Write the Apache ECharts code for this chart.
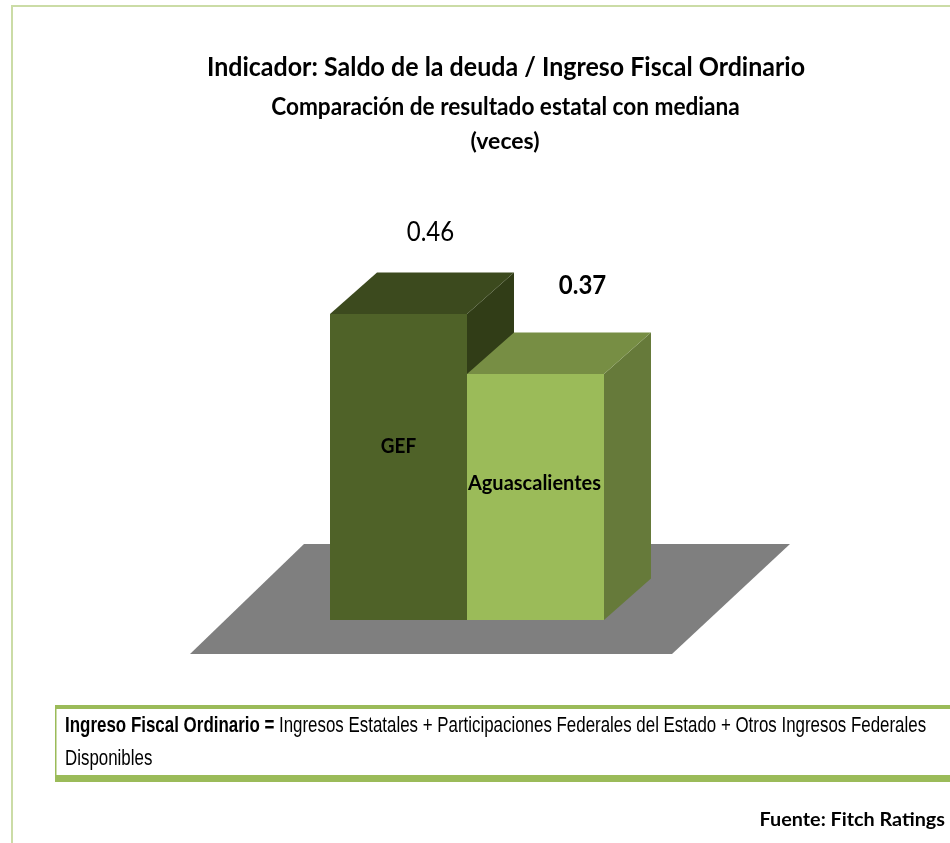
<!DOCTYPE html>
<html><head><meta charset="utf-8">
<style>html,body{margin:0;padding:0;background:#fff}#c{width:950px;height:843px}</style>
<script src="https://cdn.jsdelivr.net/npm/echarts@6/dist/echarts.min.js"></script>
</head><body><div id="c"></div>
<script>
const categories = ['GEF', 'Aguascalientes'];
const values = [0.46, 0.37];
const valueLabels = ['0.46', '0.37'];
const titleLines = ['Indicador: Saldo de la deuda / Ingreso Fiscal Ordinario', 'Comparación de resultado estatal con mediana', '(veces)'];
const noteBold = 'Ingreso Fiscal Ordinario = ';
const noteLine1 = 'Ingresos Estatales + Participaciones Federales del Estado + Otros Ingresos Federales';
const noteLine2 = 'Disponibles';
const source = 'Fuente: Fitch Ratings';

const faces = [
  {front:'#4f6228', top:'#3c4a1e', side:'#313d17'},
  {front:'#9bbb59', top:'#778e44', side:'#667a3a'}
];
const DX = 47, DY = -41.5;
const valueOffset = [[32,-82],[47,-89]];
const nameOffset = [[0,-21],[-1,-13]];
const valueWeight = ['normal','bold'];
const nameSize = [21,20];
const nameScale = [0.9,1];

function poly(pts, fill){return {type:'polygon',shape:{points:pts},style:{fill:fill},z2:1};}

const textFont = 'Lato, "Open Sans", sans-serif';
const sans = '"Liberation Sans", sans-serif';
function label(text,x,y,font,size,weight,sx,align){
  return {type:'text',x:x,y:y,scaleX:sx,silent:true,
    style:{text:text,x:0,y:0,align:align||'left',verticalAlign:'middle',fontFamily:font,fontWeight:weight,fontSize:size,fill:'#000'}};
}

const chart = echarts.init(document.getElementById('c'), null, {renderer:'canvas'});
chart.setOption({
  animation:false,
  backgroundColor:'#fff',
  grid:{left:330,width:274,top:287.4,bottom:223},
  xAxis:{type:'category',data:categories,show:false},
  yAxis:{type:'value',min:0,max:0.5,show:false},
  graphic:[
    {type:'rect',shape:{x:12,y:6,width:950,height:850},style:{fill:'none',stroke:'#cbdca6',lineWidth:2},silent:true},
    {type:'rect',shape:{x:55,y:705,width:895,height:4},style:{fill:'#9bbb59'},silent:true},
    {type:'rect',shape:{x:55,y:705,width:1.5,height:77},style:{fill:'#9bbb59'},silent:true},
    {type:'rect',shape:{x:55,y:775,width:895,height:7},style:{fill:'#9bbb59'},silent:true},
    label(titleLines[0],506,67,textFont,27,'bold',0.926,'center'),
    label(titleLines[1],505.5,107,textFont,24,'bold',0.942,'center'),
    label(titleLines[2],505,142,textFont,23,'bold',1,'center'),
    label(noteBold,65,726,sans,22,'bold',0.77),
    label(noteLine1,279,726,sans,22,'normal',0.768),
    label(noteLine2,65,759,sans,22,'normal',0.768),
    label(source,945,820,textFont,19.8,'bold',1,'right')
  ],
  series:[
    {
      type:'custom',coordinateSystem:'cartesian2d',z:1,silent:true,
      data:[[0,0]],
      renderItem:function(p,api){
        const o = api.coord([0,0]);
        const w = api.size([1,0])[0];
        const l = o[0]-w/2;
        return poly([[l-140,o[1]+34],[l+342,o[1]+34],[l+460,o[1]-76],[l-26,o[1]-76]],'#7f7f7f');
      }
    },
    {
      type:'custom',coordinateSystem:'cartesian2d',z:2,silent:true,
      encode:{x:0,y:1},
      data:values.map((v,i)=>[i,v]),
      renderItem:function(p,api){
        const i = api.value(0), v = api.value(1);
        const t = api.coord([i,v]), b = api.coord([i,0]);
        const w = api.size([1,0])[0];
        const l = t[0]-w/2, r = t[0]+w/2;
        const f = faces[i];
        return {type:'group',children:[
          poly([[r,t[1]],[r+DX,t[1]+DY],[r+DX,b[1]+DY],[r,b[1]]],f.side),
          poly([[l,t[1]],[l+DX,t[1]+DY],[r+DX,t[1]+DY],[r,t[1]]],f.top),
          poly([[l,t[1]],[r,t[1]],[r,b[1]],[l,b[1]]],f.front),
          {type:'text',z2:5,x:t[0]+nameOffset[i][0],y:(t[1]+b[1])/2+nameOffset[i][1],scaleX:nameScale[i],style:{text:categories[i],x:0,y:0,align:'center',verticalAlign:'middle',fontFamily:textFont,fontWeight:'bold',fontSize:nameSize[i],fill:'#000'}},
          {type:'text',z2:5,x:t[0]+valueOffset[i][0],y:t[1]+valueOffset[i][1],scaleX:0.89,style:{text:valueLabels[i],x:0,y:0,align:'center',verticalAlign:'middle',fontFamily:textFont,fontWeight:valueWeight[i],fontSize:27,fill:'#000'}}
        ]};
      }
    }
  ]
});
</script></body></html>
